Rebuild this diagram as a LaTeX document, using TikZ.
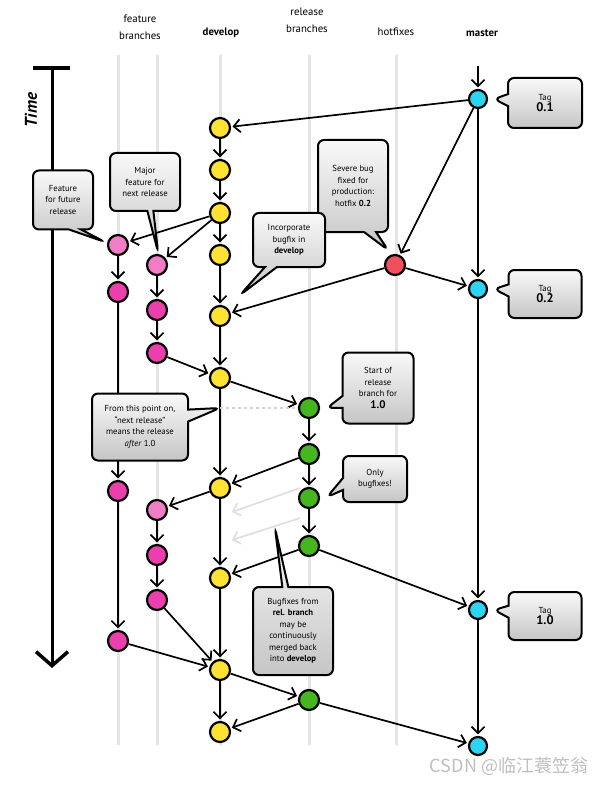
\documentclass[tikz,border=0pt]{standalone}
\usepackage{fontspec}
\setmainfont{PT Sans}
\newfontfamily\cjkfont{Noto Sans CJK SC}
\usepackage{xcolor}
\usetikzlibrary{shapes.callouts,arrows.meta,calc}

\definecolor{devyellow}{HTML}{FFE234}
\definecolor{featpink}{HTML}{EC3FAE}
\definecolor{featlight}{HTML}{F27CC6}
\definecolor{relgreen}{HTML}{46B620}
\definecolor{hotred}{HTML}{F0505C}
\definecolor{mastcyan}{HTML}{2CD4F2}

\newcommand{\tagnum}{\fontsize{12.5}{14}\selectfont\bfseries}

\begin{document}
\begin{tikzpicture}[x=1pt, y=-1pt,
    lane/.style={draw=gray!20, line width=3pt},
    commit/.style={circle, draw=black, line width=2.2pt, minimum size=20pt, inner sep=0pt},
    dev/.style={commit, fill=devyellow},
    feat/.style={commit, fill=featpink},
    featnew/.style={commit, fill=featlight},
    rel/.style={commit, fill=relgreen},
    hot/.style={commit, fill=hotred},
    mast/.style={commit, fill=mastcyan, minimum size=18pt},
    line/.style={draw, line width=1.7pt, -{Straight Barb[length=6.5pt,width=13pt,line width=1.7pt]}, shorten >=1.5pt},
    ghost/.style={draw=gray!25, line width=1.7pt, -{Straight Barb[length=6.5pt,width=13pt,line width=1.7pt]}},
    callbox/.style={rectangle callout, draw=black, line width=2pt, rounded corners=6pt, top color=gray!5, bottom color=gray!45, align=center, inner sep=2pt, font=\fontsize{8.7}{11.5}\selectfont, callout pointer width=12pt},
    header/.style={align=center, font=\fontsize{10.8}{17}\selectfont}]

    \path[fill=white] (0,0) rectangle (610,786);
    \useasboundingbox (0,0) rectangle (610,786);

    % headers
    \node [header] (hfeat) at (140,27) {feature\\branches};
    \node [header, font=\fontsize{10.8}{17}\selectfont\bfseries] (hdev) at (221,33) {develop};
    \node [header] (hrel) at (307,20) {release\\branches};
    \node [header] (hhot) at (396,32) {hotfixes};
    \node [header, font=\fontsize{10.8}{17}\selectfont\bfseries] (hmast) at (482,33) {master};

    % lanes
    \foreach \x in {118,157,220,309,396}
        \path [lane] (\x,55) -- (\x,745);

    % time axis
    \coordinate (tl) at (33,68);
    \coordinate (tr) at (70,68);
    \coordinate (t0) at (52,68);
    \coordinate (t1) at (52,668);
    \draw [line width=3.5pt] (tl) -- (tr);
    \draw [line width=3pt, -{Straight Barb[length=14pt,width=32pt,line width=3.5pt]}] (t0) -- (t1);
    \node [rotate=90, font=\fontsize{17}{17}\selectfont\bfseries\itshape] (timelbl) at (31,110) {Time};

    % master
    \coordinate (mtop) at (478,66);
    \node [mast] (m1) at (478,99) {};
    \node [mast] (m2) at (478,289) {};
    \node [mast] (m3) at (478,610) {};
    \node [mast] (m4) at (478,746) {};

    % hotfix
    \node [hot] (h1) at (395,265) {};

    % develop
    \node [dev] (d1) at (220,128) {};
    \node [dev] (d2) at (220,170) {};
    \node [dev] (d3) at (220,213) {};
    \node [dev] (d4) at (220,255) {};
    \node [dev] (d5) at (220,316) {};
    \node [dev] (d6) at (220,378) {};
    \node [dev] (d7) at (220,488) {};
    \node [dev] (d8) at (220,578) {};
    \node [dev] (d9) at (220,670) {};
    \node [dev] (d10) at (220,732) {};

    % feature branches
    \node [featnew] (f1a) at (118,245) {};
    \node [feat] (f1b) at (118,292) {};
    \node [feat] (f1c) at (118,491) {};
    \node [feat] (f1d) at (118,641) {};
    \node [featnew] (f2a) at (157,265) {};
    \node [feat] (f2b) at (157,310) {};
    \node [feat] (f2c) at (157,353) {};
    \node [featnew] (f2d) at (157,510) {};
    \node [feat] (f2e) at (157,555) {};
    \node [feat] (f2f) at (157,600) {};

    % release branches
    \node [rel] (r1) at (309,408) {};
    \node [rel] (r2) at (309,454) {};
    \node [rel] (r3) at (309,498) {};
    \node [rel] (r4) at (309,546) {};
    \node [rel] (r5) at (309,700) {};

    % connections
    \path [line] (mtop) -- (m1);
    \foreach \a/\b in {m1/m2, m2/m3, m3/m4, m1/d1, m1/h1, h1/m2, h1/d5,
        d1/d2, d2/d3, d3/d4, d4/d5, d5/d6, d6/d7, d7/d8, d8/d9, d9/d10,
        d3/f1a, d3/f2a, f1a/f1b, f1b/f1c, f1c/f1d, f2a/f2b, f2b/f2c,
        f2c/d6, d6/r1, r1/r2, r2/r3, r3/r4, r2/d7, d7/f2d, f2d/f2e, f2e/f2f,
        r4/d8, r4/m3, f2f/d9, f1d/d9, d9/r5, r5/d10, r5/m4}
        \path [line] (\a) -- (\b);

    \coordinate (split) at (220,408);
    \draw [gray!35, dashed, line width=1.4pt] (split) -- (r1);

    % merges that may happen
    \coordinate (g1s) at (300,488);
    \coordinate (g1e) at (232,512);
    \coordinate (g2s) at (300,518);
    \coordinate (g2e) at (232,540);
    \coordinate (mergetip) at (275,528);
    \path [ghost] (g1s) -- (g1e);
    \path [ghost] (g2s) -- (g2e);

    % callouts
    \node [callbox, minimum width=74pt, minimum height=50pt, callout absolute pointer={($(m1.east)+(6,0)$)}] (tag01) at (545,103) {Tag\\{\tagnum 0.1}};
    \node [callbox, minimum width=73pt, minimum height=48pt, callout absolute pointer={($(m2.east)+(6,0)$)}] (tag02) at (545,294) {Tag\\{\tagnum 0.2}};
    \node [callbox, minimum width=73pt, minimum height=48pt, callout absolute pointer={($(m3.east)+(6,0)$)}] (tag10) at (545,616) {Tag\\{\tagnum 1.0}};
    \node [callbox, minimum width=70pt, minimum height=92pt, callout absolute pointer={($(h1)+(-7,-15)$)}] (severe) at (353,186) {Severe bug\\fixed for\\production:\\hotfix \textbf{0.2}};
    \node [callbox, minimum width=72pt, minimum height=54pt, callout absolute pointer={($(d5)+(20,-21)$)}] (incorp) at (289,240) {Incorporate\\bugfix in\\\textbf{develop}};
    \node [callbox, minimum width=60pt, minimum height=59pt, callout absolute pointer={($(f1a)+(-13,-3)$)}] (future) at (63,200) {Feature\\for future\\release};
    \node [callbox, minimum width=70pt, minimum height=58pt, callout pointer width=6pt, callout absolute pointer={($(f2a)+(1,-13)$)}] (major) at (145,182) {Major\\feature for\\next release};
    \node [callbox, minimum width=96pt, minimum height=67pt, callout absolute pointer={(split)}] (nextrel) at (140,427) {From this point on,\\“next release”\\means the release\\\textit{after} 1.0};
    \node [callbox, minimum width=71pt, minimum height=71pt, callout absolute pointer={($(r1)+(18,0)$)}] (start) at (378,388) {Start of\\release\\branch for\\{\fontsize{11}{13}\selectfont\bfseries 1.0}};
    \node [callbox, minimum width=64pt, minimum height=46pt, callout absolute pointer={($(r3)+(18,-1)$)}] (only) at (375,479) {Only\\bugfixes!};
    \node [callbox, minimum width=80pt, minimum height=88pt, callout pointer width=6pt, callout absolute pointer={(mergetip)}] (bugfix) at (293,631) {Bugfixes from\\\textbf{rel. branch}\\may be\\continuously\\merged back\\into \textbf{develop}};

    % watermark
    \node [text=gray!50, font=\cjkfont\fontsize{18}{18}\selectfont] (mark) at (509,766) {CSDN @临江蓑笠翁};
\end{tikzpicture}
\end{document}
